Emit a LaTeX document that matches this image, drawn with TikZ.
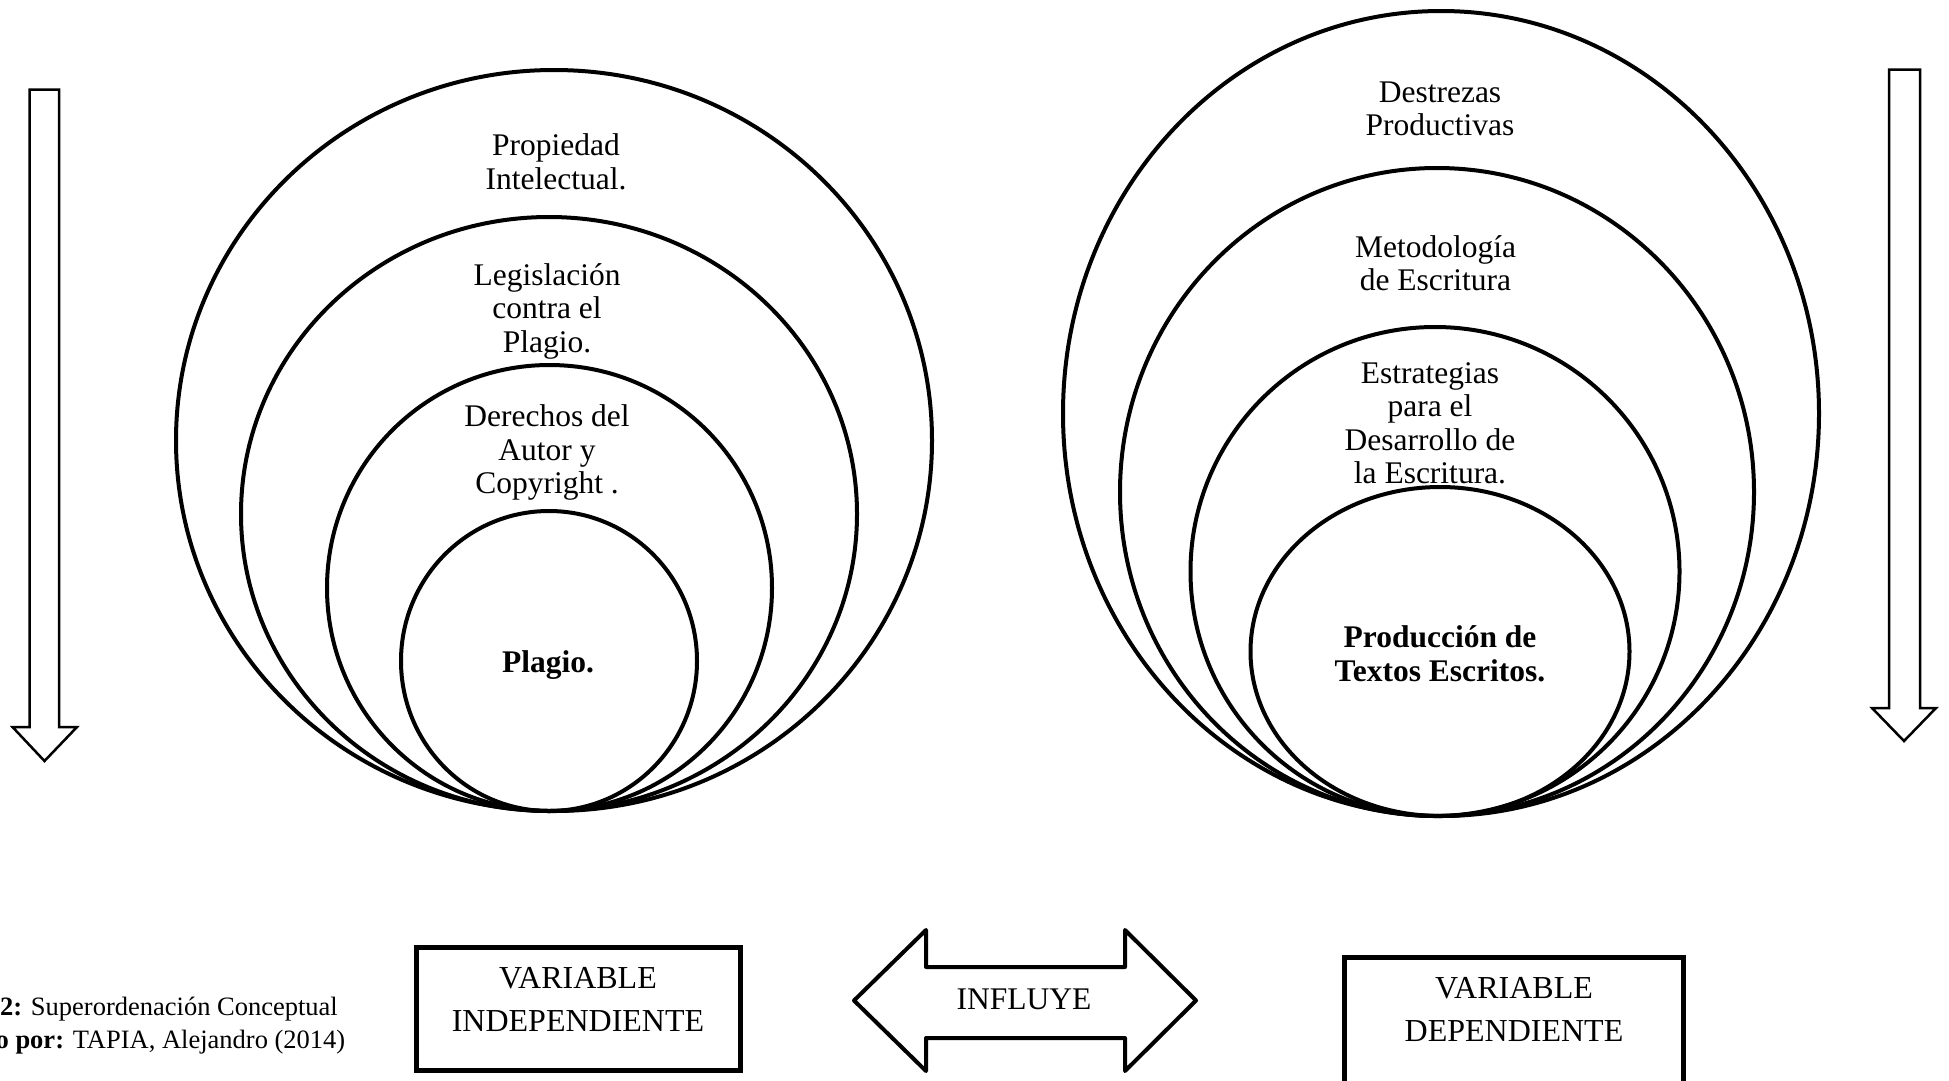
\documentclass[tikz,border=0pt]{standalone}
\usepackage{fontspec}
\setmainfont{Liberation Serif}
\begin{document}
\begin{tikzpicture}[x=1pt,y=-1pt,
  ring/.style={line width=4pt},
  lbl/.style={font=\fontsize{31.5}{33.5}\selectfont, align=center, inner sep=0pt},
  boxlbl/.style={font=\fontsize{32}{43}\selectfont, align=center, inner sep=0pt},
  caplbl/.style={font=\fontsize{26.5}{30}\selectfont, inner sep=0pt, anchor=east},
  vbox/.style={draw, line width=5pt, rectangle, inner sep=0pt},
  bigarrow/.style={line width=2.5pt, line join=miter},
  dblarrow/.style={line width=4pt, line join=round}]
\useasboundingbox (0,0) rectangle (1949,1080);

% left vertical arrow
\draw[bigarrow] (29.5,89.5) -- (59,89.5) -- (59,727) -- (77,727) -- (44.5,761) -- (12.5,727) -- (29.5,727) -- cycle;
% right vertical arrow
\draw[bigarrow] (1889,69.5) -- (1920,69.5) -- (1920,708) -- (1936,708) -- (1904,741) -- (1872,708) -- (1889,708) -- cycle;

% left nested circles
\draw[ring] (554,440.5) ellipse [x radius=378, y radius=370.5];
\draw[ring] (549,514) ellipse [x radius=308, y radius=297];
\draw[ring] (549.5,588) ellipse [x radius=222.5, y radius=223];
\draw[ring] (549,661) ellipse [x radius=148, y radius=150];

\node[lbl] (l1) at (556,162) {Propiedad\\Intelectual.};
\node[lbl] (l2) at (547,311) {Legislación\\contra el\\Plagio.};
\node[lbl] (l3) at (547,452.5) {Derechos del\\Autor y\\Copyright .};
\node[lbl] (l4) at (548,665.5) {\textbf{Plagio.}};

% right nested ellipses
\draw[ring] (1441,413.5) ellipse [x radius=378, y radius=402.5];
\draw[ring] (1437,492) ellipse [x radius=317, y radius=324];
\draw[ring] (1435,571.5) ellipse [x radius=244.5, y radius=244.5];
\draw[ring] (1440,651.5) ellipse [x radius=189.5, y radius=164.5];

\node[lbl] (r1) at (1440,109) {Destrezas\\Productivas};
\node[lbl] (r2) at (1435.5,263) {Metodología\\de Escritura};
\node[lbl] (r3) at (1430,423.5) {Estrategias\\para el\\Desarrollo de\\la Escritura.};
\node[lbl] (r4) at (1440,654) {\textbf{Producción de}\\\textbf{Textos Escritos.}};

% bottom row
\node[vbox, minimum width=324, minimum height=123] (vi) at (578.5,1008.5) {};
\node[boxlbl] (vitxt) at (578,999.5) {VARIABLE\\INDEPENDIENTE};

\draw[dblarrow] (854,1000.5) -- (926,930) -- (926,967) -- (1125,967) -- (1125,930) -- (1196,1000.5) -- (1125,1071) -- (1125,1038) -- (926,1038) -- (926,1071) -- cycle;
\node[lbl] (inf) at (1024,999) {INFLUYE};

\coordinate (vdbl) at (1344.5,1090);
\coordinate (vdtl) at (1344.5,957);
\coordinate (vdtr) at (1683,957);
\coordinate (vdbr) at (1683,1090);
\draw[line width=5pt, line join=miter] (vdbl) -- (vdtl) -- (vdtr) -- (vdbr);
\node[boxlbl] (vdtxt) at (1514,1009.5) {VARIABLE\\DEPENDIENTE};

\node[caplbl] (cap1) at (338,1009.5) {\textbf{2:} Superordenación Conceptual};
\node[caplbl] (cap2) at (345.5,1042) {\textbf{o por:} TAPIA, Alejandro (2014)};
\end{tikzpicture}
\end{document}
